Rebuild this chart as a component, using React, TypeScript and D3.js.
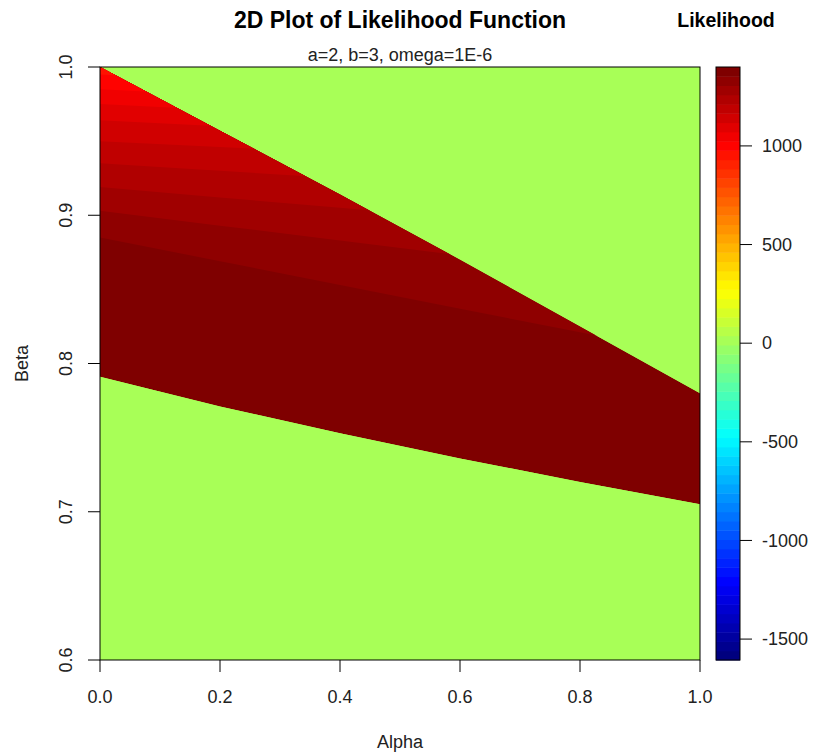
import React, { useEffect, useRef } from "react"
import * as d3 from "d3"

// grid positions on the alpha axis where the boundaries were read
const alphaPts = [0, 0.2, 0.4, 0.6, 0.8, 1.0]
// beta where the likelihood drops to 0 (top and bottom edge of the red band)
const upperBeta = [1.0, 0.957, 0.914, 0.87, 0.825, 0.78]
const lowerBeta = [0.791, 0.771, 0.753, 0.736, 0.72, 0.705]
// colour level edges inside the band (top-left shading), lightest first
const contourBeta = [
  [0.995, 0.991, 0.987, 0.983, 0.979, 0.975],
  [0.985, 0.981, 0.977, 0.973, 0.969, 0.965],
  [0.975, 0.971, 0.967, 0.963, 0.959, 0.955],
  [0.964, 0.96, 0.956, 0.952, 0.948, 0.944],
  [0.95, 0.946, 0.942, 0.938, 0.934, 0.93],
  [0.935, 0.93, 0.925, 0.92, 0.915, 0.91],
  [0.919, 0.912, 0.905, 0.898, 0.891, 0.884],
  [0.903, 0.893, 0.883, 0.873, 0.863, 0.853],
  [0.885, 0.869, 0.853, 0.837, 0.821, 0.805],
]
// likelihood value of each level, above contour 1 ... below contour 9
const bandValues = [955, 1000, 1050, 1095, 1145, 1190, 1235, 1285, 1330, 1380]
const outsideValue = 0

const zLimits = [-1606, 1400]
const zTicks = [-1500, -1000, -500, 0, 500, 1000]
const alphaTicks = [0, 0.2, 0.4, 0.6, 0.8, 1.0]
const betaTicks = [0.6, 0.7, 0.8, 0.9, 1.0]
const jetStops = ["#00007F", "#0000FF", "#007FFF", "#00FFFF", "#7FFF7F", "#FFFF00", "#FF7F00", "#FF0000", "#7F0000"]
const nColors = 64

const font = "'Liberation Sans', Arial, sans-serif"

export default function App() {
  const ref = useRef<SVGSVGElement>(null)

  useEffect(() => {
    const svg = d3.select(ref.current)
    svg.selectAll("*").remove()

    const x = d3.scaleLinear().domain([0, 1]).range([100, 700])
    const y = d3.scaleLinear().domain([0.6, 1.0]).range([660, 67])

    const jet = d3.scaleLinear<string>()
      .domain(jetStops.map((c, i) => i / (jetStops.length - 1)))
      .range(jetStops)
      .interpolate(d3.interpolateRgb)
    const palette = d3.range(nColors).map(i => jet(i / (nColors - 1)))
    const color = d3.scaleQuantize<string>().domain(zLimits).range(palette)

    svg.append("rect")
      .attr("width", 813).attr("height", 755).attr("fill", "white")

    // background = zero likelihood
    svg.append("rect")
      .attr("x", x(0)).attr("y", y(1))
      .attr("width", x(1) - x(0)).attr("height", y(0.6) - y(1))
      .attr("fill", color(outsideValue))

    const pts = alphaPts.map((a, i) => ({ a, lo: lowerBeta[i], hi: upperBeta[i] }))
    const region = d3.area<any>()
      .x(d => x(d.a)).y0(d => y(d.lo)).y1(d => y(d.hi))

    svg.append("clipPath").attr("id", "likeRegion")
      .append("path").attr("d", region(pts))

    const band = svg.append("g").attr("clip-path", "url(#likeRegion)")
    band.append("path")
      .attr("d", region(pts))
      .attr("fill", color(bandValues[bandValues.length - 1]))

    for (let k = contourBeta.length - 1; k >= 0; k--) {
      const above = d3.area<any>()
        .x(d => x(d.a)).y0(d => y(d.c)).y1(() => y(1.0))
      const cpts = alphaPts.map((a, i) => ({ a, c: contourBeta[k][i] }))
      band.append("path")
        .attr("d", above(cpts))
        .attr("fill", color(bandValues[k]))
    }

    // plot box
    svg.append("rect")
      .attr("x", x(0)).attr("y", y(1))
      .attr("width", x(1) - x(0)).attr("height", y(0.6) - y(1))
      .attr("fill", "none").attr("stroke", "black").attr("stroke-width", 1)

    const tickLen = 12

    // x axis
    alphaTicks.forEach(t => {
      svg.append("line")
        .attr("x1", x(t)).attr("x2", x(t))
        .attr("y1", y(0.6)).attr("y2", y(0.6) + tickLen)
        .attr("stroke", "black")
      svg.append("text")
        .attr("x", x(t)).attr("y", 703)
        .attr("text-anchor", "middle")
        .attr("font-family", font).attr("font-size", 18).attr("fill", "#222")
        .text(d3.format(".1f")(t))
    })

    // y axis
    betaTicks.forEach(t => {
      svg.append("line")
        .attr("x1", x(0) - tickLen).attr("x2", x(0))
        .attr("y1", y(t)).attr("y2", y(t))
        .attr("stroke", "black")
      svg.append("text")
        .attr("transform", `translate(66,${y(t)}) rotate(-90)`)
        .attr("dy", "0.35em")
        .attr("text-anchor", "middle")
        .attr("font-family", font).attr("font-size", 18).attr("fill", "#222")
        .text(d3.format(".1f")(t))
    })

    svg.append("text")
      .attr("x", 400).attr("y", 748)
      .attr("text-anchor", "middle")
      .attr("font-family", font).attr("font-size", 18).attr("fill", "#222")
      .text("Alpha")
    svg.append("text")
      .attr("transform", `translate(22,${y(0.8)}) rotate(-90)`)
      .attr("dy", "0.35em")
      .attr("text-anchor", "middle")
      .attr("font-family", font).attr("font-size", 18).attr("fill", "#222")
      .text("Beta")

    svg.append("text")
      .attr("x", 400).attr("y", 28)
      .attr("text-anchor", "middle")
      .attr("font-family", font).attr("font-size", 23).attr("font-weight", "bold")
      .text("2D Plot of Likelihood Function")
    svg.append("text")
      .attr("x", 400).attr("y", 61)
      .attr("text-anchor", "middle")
      .attr("font-family", font).attr("font-size", 18).attr("fill", "#222")
      .text("a=2, b=3, omega=1E-6")

    // colour legend
    const z = d3.scaleLinear().domain(zLimits).range([660, 67])
    const legend = svg.append("g")
    legend.selectAll("rect.cell")
      .data(palette)
      .enter()
      .append("rect")
      .attr("class", "cell")
      .attr("x", 716)
      .attr("width", 24)
      .attr("y", d => z(color.invertExtent(d)[1]))
      .attr("height", d => z(color.invertExtent(d)[0]) - z(color.invertExtent(d)[1]) + 0.5)
      .attr("fill", d => d)
    legend.append("rect")
      .attr("x", 716).attr("y", 67).attr("width", 24).attr("height", 593)
      .attr("fill", "none").attr("stroke", "black")
    zTicks.forEach(t => {
      legend.append("line")
        .attr("x1", 740).attr("x2", 740 + tickLen)
        .attr("y1", z(t)).attr("y2", z(t))
        .attr("stroke", "black")
      legend.append("text")
        .attr("x", 762).attr("y", z(t)).attr("dy", "0.35em")
        .attr("font-family", font).attr("font-size", 18).attr("fill", "#222")
        .text(t)
    })
    svg.append("text")
      .attr("x", 726).attr("y", 27)
      .attr("text-anchor", "middle")
      .attr("font-family", font).attr("font-size", 19.5).attr("font-weight", "bold")
      .text("Likelihood")
  }, [])

  return (
    <svg ref={ref} width={813} height={755}
      style={{ position: "absolute", left: 0, top: 0 }} />
  )
}
